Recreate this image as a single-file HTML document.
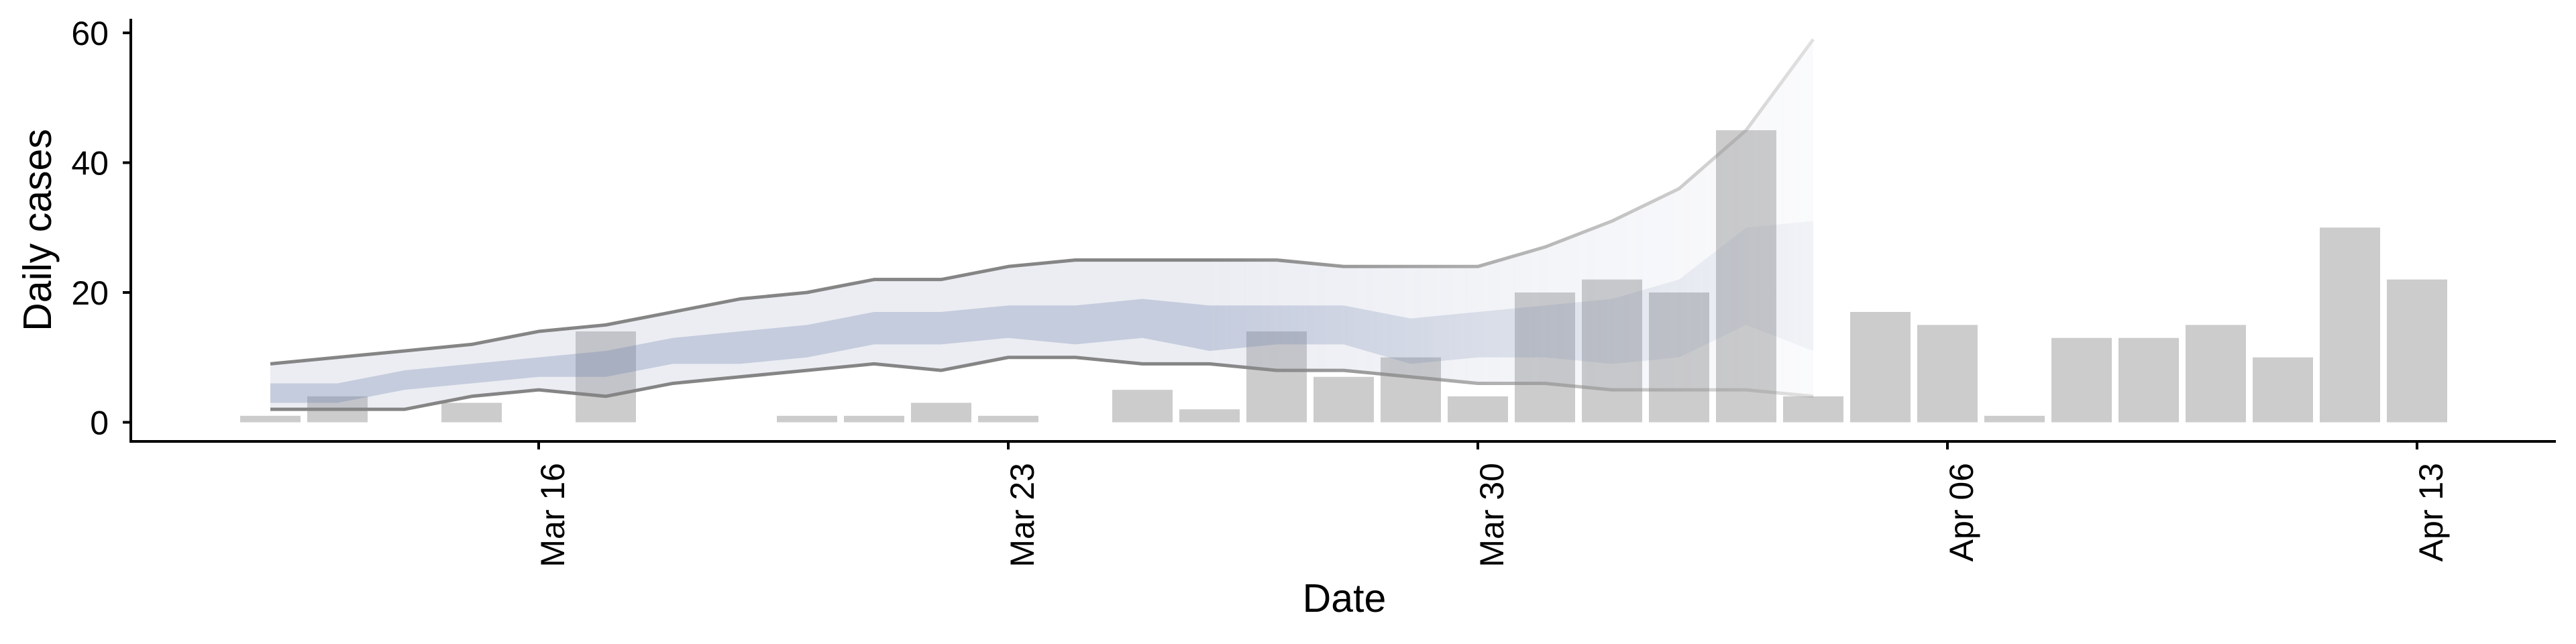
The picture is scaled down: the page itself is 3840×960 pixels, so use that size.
<!DOCTYPE html>
<html><head><meta charset="utf-8">
<style>
html,body{margin:0;padding:0;background:#fff;}
svg{display:block;font-family:"Liberation Sans",Arial,sans-serif;}
</style></head>
<body>
<svg id="chart" width="3840" height="960" viewBox="0 0 3840 960" xmlns="http://www.w3.org/2000/svg">
<defs>
  <linearGradient id="fade" gradientUnits="userSpaceOnUse" x1="1800" y1="0" x2="2703" y2="0">
    <stop offset="0" stop-color="#fff" stop-opacity="1"/>
    <stop offset="1" stop-color="#fff" stop-opacity="0.25"/>
  </linearGradient>
  <mask id="fadeMask" maskUnits="userSpaceOnUse" x="0" y="0" width="3840" height="960">
    <rect x="0" y="0" width="3840" height="960" fill="url(#fade)"/>
  </mask>
</defs>
<g id="bars"></g>
<g id="ribbon" mask="url(#fadeMask)"></g>
<g id="axes"></g>
</svg>
<script>
const barDays = [12,13,14,15,16,17,18,19,20,21,22,23,24,25,26,27,28,29,30,31,32,33,34,35,36,37,38,39,40,41,42,43,44];
const barValues = [1,4,0,3,0,14,0,0,1,1,3,1,0,5,2,14,7,10,4,20,22,20,45,4,17,15,1,13,13,15,10,30,22];
const bandDays = [12,13,14,15,16,17,18,19,20,21,22,23,24,25,26,27,28,29,30,31,32,33,34,35];
const outerUpper = [9,10,11,12,14,15,17,19,20,22,22,24,25,25,25,25,24,24,24,27,31,36,45,59];
const outerLower = [2,2,2,4,5,4,6,7,8,9,8,10,10,9,9,8,8,7,6,6,5,5,5,4];
const innerUpper = [6,6,8,9,10,11,13,14,15,17,17,18,18,19,18,18,18,16,17,18,19,22,30,31];
const innerLower = [3,3,5,6,7,7,9,9,10,12,12,13,12,13,11,12,12,9,10,10,9,10,15,11];
const yTicks = [0,20,40,60];
const xTickDays = [16,23,30,37,44];
const xTickLabels = ["Mar 16","Mar 23","Mar 30","Apr 06","Apr 13"];

const NS = "http://www.w3.org/2000/svg";
const X = d => 803 + (d - 16) * 100;
const Y = v => 629.5 - v * 9.675;
function mk(tag, attrs, parent){const e=document.createElementNS(NS,tag);for(const k in attrs)e.setAttribute(k,attrs[k]);parent.appendChild(e);return e;}

const gb = document.getElementById('bars');
barDays.forEach((d,i)=>{
  const v = barValues[i]; if(v<=0) return;
  const r = mk('rect',{x:X(d)-45,y:Y(v),width:90,height:Y(0)-Y(v),fill:'#cccccc'},gb);
  
  
});

const gr = document.getElementById('ribbon');
function band(up, lo, fill, name){
  let p = bandDays.map((d,i)=>X(d)+','+Y(up[i])).join(' ');
  p += ' ' + bandDays.slice().reverse().map((d,j)=>{const i=bandDays.length-1-j;return X(d)+','+Y(lo[i]);}).join(' ');
  const e = mk('polygon',{points:p,fill:fill},gr);
  
  
}
band(outerUpper, outerLower, 'rgba(155,165,195,0.2)', 'outer-interval-band');
band(innerUpper, innerLower, 'rgba(110,125,170,0.3)', 'inner-interval-band');
function line(vals, name){
  const e = mk('polyline',{points:bandDays.map((d,i)=>X(d)+','+Y(vals[i])).join(' '),fill:'none',stroke:'#858585','stroke-width':5,'stroke-linejoin':'round'},gr);
  
  
}
line(outerUpper,'upper-bound-line');
line(outerLower,'lower-bound-line');

const ga = document.getElementById('axes');
let e = mk('line',{x1:195,y1:28,x2:195,y2:659.5,stroke:'#000','stroke-width':4},ga);
 
e = mk('line',{x1:193,y1:658,x2:3810,y2:658,stroke:'#000','stroke-width':4},ga);
 
yTicks.forEach(v=>{
  const t = mk('line',{x1:183,y1:Y(v),x2:195,y2:Y(v),stroke:'#000','stroke-width':4},ga);
   
  const l = mk('text',{x:162,y:Y(v)+18,'text-anchor':'end','font-size':50,fill:'#000'},ga);
  l.textContent = v;
   
});
xTickDays.forEach((d,i)=>{
  const t = mk('line',{x1:X(d),y1:658,x2:X(d),y2:670,stroke:'#000','stroke-width':4},ga);
   
  const l = mk('text',{x:0,y:0,'text-anchor':'end','font-size':50,fill:'#000',transform:'translate('+(X(d)+38)+',690) rotate(-90)'},ga);
  l.textContent = xTickLabels[i];
   
});
e = mk('text',{x:2004,y:912,'text-anchor':'middle','font-size':59,fill:'#000'},ga);
e.textContent='Date';
 
e = mk('text',{x:0,y:0,'text-anchor':'middle','font-size':59,fill:'#000',transform:'translate(76,343) rotate(-90)'},ga);
e.textContent='Daily cases';
 
</script>
</body></html>
